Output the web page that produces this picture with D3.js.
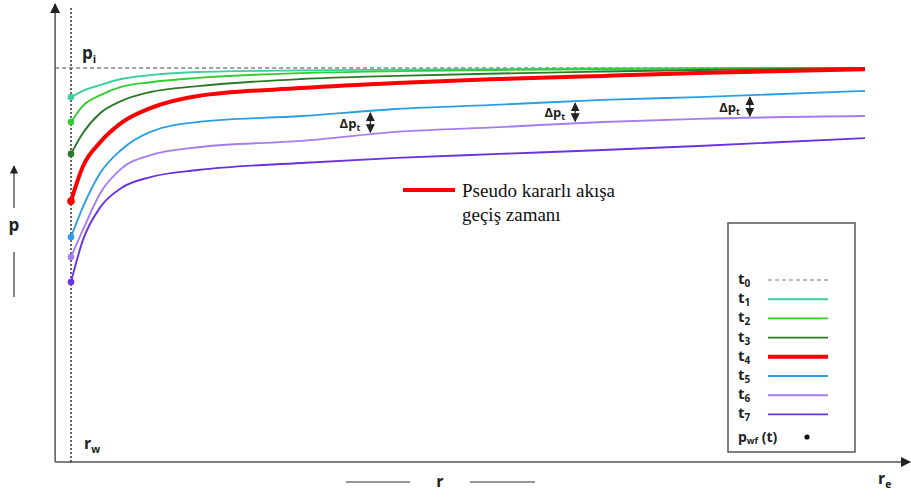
<!DOCTYPE html>
<html>
<head>
<meta charset="utf-8">
<script src="https://cdn.jsdelivr.net/npm/d3@7"></script>
<style>
  body { margin: 0; background: #fff; }
  text { font-family: "Open Sans", sans-serif; font-weight: bold; fill: #222; }
  .serif { font-family: "Liberation Serif", "Times New Roman", serif; font-weight: normal; fill: #111; }
</style>
</head>
<body>
<div id="chart"></div>
<script>
const width = 911, height = 497;

// radius (rw = 0 ... re = 100) and pressure (pi = 100)
const radius = [0, 1.5, 3.7, 6.3, 10, 16, 29, 41, 54, 67, 79, 100];
const seriesNames = ['t1', 't2', 't3', 't4', 't5', 't6', 't7'];
const t1 = [92.6, 94.2, 95.7, 97.2, 98.2, 99.0, 99.4, 99.6, 99.7, 99.9, 99.9, 100];
const t2 = [86.3, 90.4, 93.1, 95.2, 96.4, 97.5, 98.7, 99.2, 99.5, 99.7, 99.9, 100];
const t3 = [78.2, 83.5, 88.6, 91.6, 93.9, 95.4, 97.2, 98.0, 98.6, 99.1, 99.5, 100];
const t4 = [66.2, 75.0, 81.2, 86.0, 89.8, 92.9, 94.9, 96.2, 97.2, 98.0, 98.7, 99.7];
const t5 = [57.1, 64.7, 73.4, 79.2, 83.8, 86.3, 87.8, 89.6, 90.7, 91.9, 92.6, 94.2];
const t6 = [52.0, 58.9, 68.3, 74.4, 77.9, 79.9, 81.5, 83.8, 85.0, 86.3, 87.1, 87.8];
const t7 = [45.7, 56.3, 64.7, 69.5, 72.3, 74.1, 75.9, 77.2, 78.2, 79.2, 80.2, 82.2];
const series = [t1, t2, t3, t4, t5, t6, t7];
const colors = ['#3ccf9f', '#33cc33', '#2a7a2a', '#ff0000', '#2b9fe6', '#a77cf2', '#6a32e0'];
const deltaAt = [37.7, 63.5, 85.5];   // where the Δp_t arrows sit (between t5 and t6)

const x = d3.scaleLinear().domain([0, 100]).range([71, 865]);
const y = d3.scaleLinear().domain([0, 100]).range([462, 68]);

const svg = d3.select('#chart').append('svg')
    .attr('width', width)
    .attr('height', height);

const defs = svg.append('defs');
defs.append('marker')
    .attr('id', 'arr')
    .attr('viewBox', '0 0 10 10')
    .attr('refX', 9).attr('refY', 5)
    .attr('markerWidth', 7).attr('markerHeight', 7)
    .attr('orient', 'auto-start-reverse')
    .append('path').attr('d', 'M0,0 L10,5 L0,10 z').attr('fill', '#222');

const axisX0 = x(-2), axisY0 = y(0);

// axes with arrow heads
svg.append('line')
    .attr('x1', axisX0).attr('y1', axisY0).attr('x2', axisX0).attr('y2', 4)
    .attr('stroke', '#555').attr('stroke-width', 1.5).attr('marker-end', 'url(#arr)');
svg.append('line')
    .attr('x1', axisX0).attr('y1', axisY0).attr('x2', 910).attr('y2', axisY0)
    .attr('stroke', '#555').attr('stroke-width', 1.5).attr('marker-end', 'url(#arr)');

// rw dotted line, pi dashed line
svg.append('line')
    .attr('x1', x(0)).attr('y1', axisY0).attr('x2', x(0)).attr('y2', 6)
    .attr('stroke', '#333').attr('stroke-width', 1.5).attr('stroke-dasharray', '2,2');
svg.append('line')
    .attr('x1', axisX0).attr('y1', y(100)).attr('x2', x(100)).attr('y2', y(100))
    .attr('stroke', '#444').attr('stroke-width', 1.2).attr('stroke-dasharray', '4,3');

// curves
const line = d3.line()
    .x((d, i) => x(radius[i]))
    .y(d => y(d))
    .curve(d3.curveMonotoneX);

series.forEach((s, k) => {
    svg.append('path')
        .datum(s)
        .attr('d', line)
        .attr('fill', 'none')
        .attr('stroke', colors[k])
        .attr('stroke-width', k === 3 ? 4 : 1.9);
    svg.append('circle')
        .attr('cx', x(radius[0])).attr('cy', y(s[0]))
        .attr('r', k === 3 ? 3.8 : 3.3)
        .attr('fill', colors[k]);
});

// Δp_t arrows between t5 and t6
function valueAt(s, r) {
    return d3.scaleLinear().domain(radius).range(s)(r);
}
deltaAt.forEach(r => {
    const ya = y(valueAt(t5, r)) + 1, yb = y(valueAt(t6, r)) - 1;
    svg.append('line')
        .attr('x1', x(r)).attr('x2', x(r)).attr('y1', (ya + yb) / 2).attr('y2', ya + 1)
        .attr('stroke', '#222').attr('stroke-width', 1.3).attr('marker-end', 'url(#arr)');
    svg.append('line')
        .attr('x1', x(r)).attr('x2', x(r)).attr('y1', (ya + yb) / 2).attr('y2', yb - 1)
        .attr('stroke', '#222').attr('stroke-width', 1.3).attr('marker-end', 'url(#arr)');
    const t = svg.append('text')
        .attr('x', x(r) - 10).attr('y', (ya + yb) / 2 + 5)
        .attr('text-anchor', 'end').attr('font-size', 13);
    t.append('tspan').text('Δp');
    t.append('tspan').attr('font-size', 9).attr('dy', 3).text('t');
});

// red annotation
svg.append('line')
    .attr('x1', 403).attr('x2', 455).attr('y1', 190).attr('y2', 190)
    .attr('stroke', colors[3]).attr('stroke-width', 4);
svg.append('text').attr('class', 'serif').attr('x', 462).attr('y', 197)
    .attr('font-size', 19).text('Pseudo kararlı akışa');
svg.append('text').attr('class', 'serif').attr('x', 462).attr('y', 221)
    .attr('font-size', 19).text('geçiş zamanı');

// labels with subscripts
function subLabel(px, py, main, sub, size) {
    const t = svg.append('text').attr('x', px).attr('y', py).attr('font-size', size);
    t.append('tspan').text(main);
    if (sub) t.append('tspan').attr('font-size', size * 0.65).attr('dy', size * 0.25).text(sub);
    return t;
}
subLabel(82, 59, 'p', 'i', 17);
subLabel(84, 449, 'r', 'w', 16);
subLabel(878, 484, 'r', 'e', 16);
svg.append('text').attr('x', 440).attr('y', 487).attr('text-anchor', 'middle')
    .attr('font-size', 16).text('r');
svg.append('line').attr('x1', 346).attr('x2', 410).attr('y1', 482).attr('y2', 482)
    .attr('stroke', '#333').attr('stroke-width', 1.2);
svg.append('line').attr('x1', 470).attr('x2', 535).attr('y1', 482).attr('y2', 482)
    .attr('stroke', '#333').attr('stroke-width', 1.2);

svg.append('text').attr('x', 14).attr('y', 231).attr('text-anchor', 'middle')
    .attr('font-size', 17).text('p');
svg.append('line').attr('x1', 14).attr('x2', 14).attr('y1', 208).attr('y2', 166)
    .attr('stroke', '#333').attr('stroke-width', 1.2).attr('marker-end', 'url(#arr)');
svg.append('line').attr('x1', 14).attr('x2', 14).attr('y1', 252).attr('y2', 297)
    .attr('stroke', '#333').attr('stroke-width', 1.2);

// legend
const legend = svg.append('g');
legend.append('rect')
    .attr('x', 728).attr('y', 223).attr('width', 127).attr('height', 229)
    .attr('fill', '#fff').attr('stroke', '#555').attr('stroke-width', 1.5);
const legendNames = ['t0'].concat(seriesNames);
const legendColors = ['#777'].concat(colors);
legendNames.forEach((n, i) => {
    const ly = 280 + i * 19.2;
    const t = legend.append('text').attr('x', 738).attr('y', ly + 4).attr('font-size', 15);
    t.append('tspan').text('t');
    t.append('tspan').attr('font-size', 10).attr('dy', 3).text(n.slice(1));
    legend.append('line')
        .attr('x1', 768).attr('x2', 828).attr('y1', ly).attr('y2', ly)
        .attr('stroke', legendColors[i])
        .attr('stroke-width', i === 0 ? 1.2 : (i === 4 ? 4 : 1.9))
        .attr('stroke-dasharray', i === 0 ? '4,3' : null);
});
const pw = legend.append('text').attr('x', 738).attr('y', 442).attr('font-size', 14);
pw.append('tspan').text('p');
pw.append('tspan').attr('font-size', 9).attr('dy', 2).text('wf');
pw.append('tspan').attr('dy', -2).text(' (t)');
legend.append('circle').attr('cx', 807).attr('cy', 437).attr('r', 2.6).attr('fill', '#111');
</script>
</body>
</html>
